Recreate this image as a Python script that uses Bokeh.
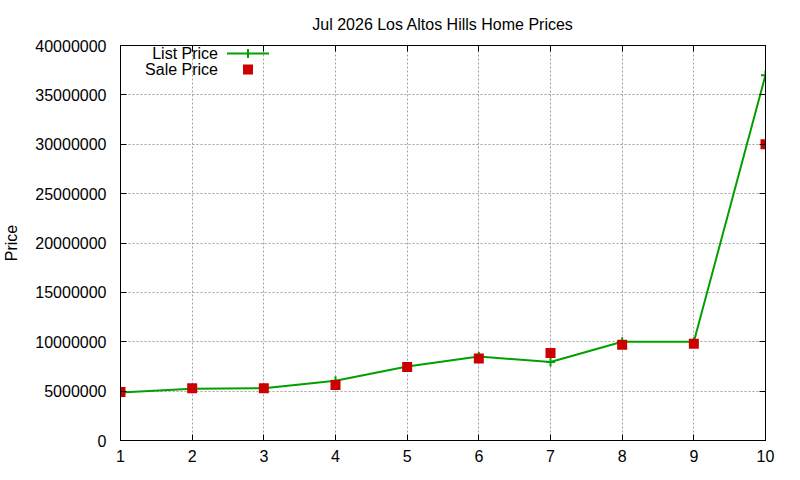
from bokeh.plotting import figure
from bokeh.models import (LinearAxis, SingleIntervalTicker, BasicTickFormatter,
                          Label, Arrow, BoxAnnotation, Range1d)
from bokeh.embed import file_html
from bokeh.resources import INLINE

# data
months = [1, 2, 3, 4, 5, 6, 7, 8, 9, 10]
list_price = [4850000, 5250000, 5300000, 6050000, 7500000,
              8500000, 7950000, 10000000, 10000000, 37000000]
sale_price = [4900000, 5300000, 5300000, 5620000, 7450000,
              8300000, 8870000, 9690000, 9790000, 30000000]

title = "Jul 2026 Los Altos Hills Home Prices"
y_label = "Price"
series_names = ["List Price", "Sale Price"]

FONT = "Liberation Sans"
GREEN = "#00a000"
RED = "#cc0000"

W, H = 784, 464
B_LEFT, B_RIGHT, B_TOP, B_BOTTOM = 119, 19, 45, 22
FRAME_H = H - B_TOP - B_BOTTOM

p = figure(width=W, height=H, output_backend="svg", toolbar_location=None,
           x_range=Range1d(1, 10), y_range=Range1d(0, 40000000),
           min_border_left=B_LEFT, min_border_right=B_RIGHT,
           min_border_top=B_TOP, min_border_bottom=B_BOTTOM)

p.title.text = title
p.title.align = "center"
p.title.text_font = FONT
p.title.text_font_size = "16px"
p.title.text_font_style = "normal"
p.title.text_color = "black"
p.title.standoff = 18

p.outline_line_color = "black"
p.outline_line_alpha = 1
p.outline_line_width = 1

# grid, gnuplot-ish dotted grey
for g in (p.xgrid, p.ygrid):
    g.grid_line_color = "#a0a0a0"
    g.grid_line_dash = "2 2"
    g.grid_line_width = 1

x_ticker = SingleIntervalTicker(interval=1)
y_ticker = SingleIntervalTicker(interval=5000000)
p.xaxis.ticker = x_ticker
p.yaxis.ticker = y_ticker
p.xgrid.ticker = x_ticker
p.ygrid.ticker = y_ticker
p.yaxis.formatter = BasicTickFormatter(use_scientific=False)
p.yaxis.axis_label = y_label

# mirror ticks on top and right
top_axis = LinearAxis(ticker=x_ticker)
right_axis = LinearAxis(ticker=y_ticker)
p.add_layout(top_axis, "above")
p.add_layout(right_axis, "right")

for ax in p.axis:
    ax.axis_line_color = "black"
    ax.major_tick_line_color = "black"
    ax.major_tick_in = 6
    ax.major_tick_out = 0
    ax.minor_tick_line_color = None
    ax.major_label_text_font = FONT
    ax.major_label_text_font_size = "16px"
    ax.major_label_text_color = "black"
    ax.axis_label_text_font = FONT
    ax.axis_label_text_font_size = "16px"
    ax.axis_label_text_font_style = "normal"
    ax.axis_label_text_color = "black"

for ax in (top_axis, right_axis):
    ax.major_label_text_font_size = "1px"
    ax.major_label_text_color = None
    ax.major_label_standoff = 0
p.xaxis[0].major_label_standoff = 3
p.yaxis[0].major_label_standoff = 10
p.yaxis[0].axis_label_standoff = 12

# series
p.line(months, list_price, line_color=GREEN, line_width=2)
p.scatter(months, list_price, marker="cross", size=9, line_color=GREEN, line_width=2)
p.scatter(months, sale_price, marker="square", size=10, fill_color=RED, line_color=None)

# legend drawn by hand, gnuplot style (text left, sample right)
row_y = [FRAME_H - 10, FRAME_H - 26]
for name, yy in zip(series_names, row_y):
    p.add_layout(Label(x=97.5, y=yy, x_units="screen", y_units="screen", text=name,
                       text_align="right", text_baseline="middle", text_font=FONT,
                       text_font_size="16px", text_color="black"))
p.add_layout(Arrow(x_start=106.5, y_start=row_y[0], x_end=148.5, y_end=row_y[0],
                   start_units="screen", end_units="screen", end=None,
                   line_color=GREEN, line_width=2))
p.add_layout(Arrow(x_start=127.5, y_start=row_y[0] - 4.5, x_end=127.5, y_end=row_y[0] + 4.5,
                   start_units="screen", end_units="screen", end=None,
                   line_color=GREEN, line_width=2))
p.add_layout(BoxAnnotation(left=122.5, right=132.5, bottom=row_y[1] - 5, top=row_y[1] + 5,
                           left_units="screen", right_units="screen",
                           bottom_units="screen", top_units="screen",
                           fill_color=RED, fill_alpha=1, line_color=None))

open("out.html", "w").write(file_html(p, INLINE))
